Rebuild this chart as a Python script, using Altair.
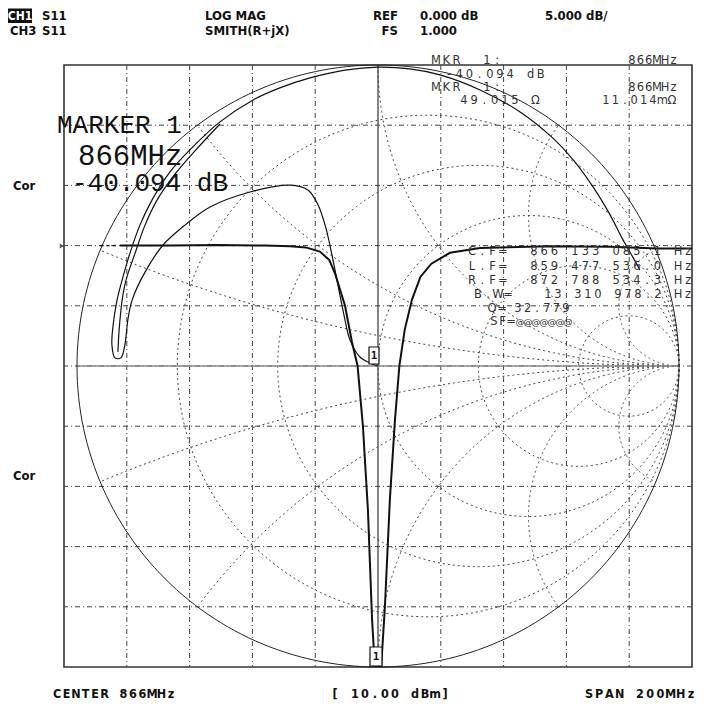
import altair as alt
import numpy as np
import pandas as pd

# ---------------- screen scaling (network-analyser display) ----------------
F_START, F_STOP = 766.0, 966.0      # MHz  (center 866, span 200)
DB_TOP, DB_BOT = 15.0, -35.0        # REF 0 dB at 3rd division, 5 dB/div
W, H = 628, 602
PX_F = W / (F_STOP - F_START)       # px per MHz
PX_D = H / (DB_TOP - DB_BOT)        # px per dB
GX = (H / 2) / PX_F                 # MHz per unit reflection coefficient
GY = (H / 2) / PX_D                 # dB per unit reflection coefficient
F_C, DB_C = 866.0, -10.0            # smith chart centre on the screen

# ---------------- CH1 : S11 LOG MAG trace ----------------
lm_freq = [783.8, 800, 815, 830, 838, 843, 847.5, 850.5, 852.3, 855.5, 857.7, 859.5,
           861.2, 862.8, 864.1, 865.0, 866.0, 867.0, 868.2, 869.8, 871.4, 872.8,
           874.5, 876.8, 879.5, 883.0, 888.9, 898.5, 920, 940, 955, 966]
lm_db = [0.0, 0.0, 0.05, 0.0, -0.05, -0.15, -0.5, -1.2, -2.3, -5.0, -8.0, -10.0,
         -15.0, -22.0, -31.0, -38.0, -40.094, -38.0, -30.0, -21.0, -14.5, -10.0,
         -7.0, -4.5, -2.6, -1.5, -0.6, -0.2, -0.05, -0.1, -0.25, -0.25]
lm_lead_freq = [777.5, 779.5, 781.5]          # faint start of the trace near the REF pointer

# ---------------- CH3 : S11 SMITH trace (reflection coefficient) ----------------
# outer sweep arc (right -> over the top -> left), turning back in as the resonance loop
sm_re = [0.870, 0.837, 0.814, 0.771, 0.721, 0.654, 0.581, 0.472, 0.339, 0.206, 0.106, 0.0,
         -0.110, -0.226, -0.326, -0.415, -0.525, -0.625, -0.691, -0.751, -0.791, -0.824,
         -0.850, -0.867, -0.880, -0.884, -0.874, -0.854, -0.841, -0.831,
         -0.817, -0.774, -0.714, -0.641, -0.558, -0.425, -0.292, -0.233, -0.199, -0.173,
         -0.153, -0.133, -0.113, -0.093, -0.060, -0.027, 0.0]
sm_im = [0.319, 0.379, 0.419, 0.502, 0.585, 0.678, 0.757, 0.844, 0.917, 0.967, 0.987, 0.993,
         0.983, 0.957, 0.924, 0.884, 0.811, 0.718, 0.645, 0.551, 0.468, 0.375,
         0.286, 0.219, 0.136, 0.070, 0.027, 0.027, 0.070, 0.153,
         0.219, 0.312, 0.402, 0.468, 0.528, 0.578, 0.601, 0.585, 0.535, 0.458,
         0.369, 0.269, 0.169, 0.086, 0.030, 0.010, 0.0]
# second pass of the sweep on the upper left, just inside the outer arc
sm2_re = [-0.525, -0.605, -0.674, -0.734, -0.774, -0.807, -0.837, -0.850, -0.860, -0.864]
sm2_im = [0.804, 0.718, 0.638, 0.551, 0.468, 0.375, 0.286, 0.219, 0.120, 0.047]

# ---------------- smith chart graticule ----------------
r_values = [0.2, 0.5, 1.0, 2.0, 5.0]
x_values = [0.2, 0.5, 1.0, 2.0, 5.0]

# ---------------- screen grid ----------------
v_grid = [786, 806, 826, 846, 886, 906, 926, 946]
h_grid = [10, 5, 0, -5, -10, -15, -20, -25, -30]


def to_screen(re, im):
    return F_C + GX * np.asarray(re, dtype=float), DB_C + GY * np.asarray(im, dtype=float)


def px(xp, yp):
    """page pixel -> screen data units (used only to place annotations)"""
    return F_START + (xp - 64) / PX_F, DB_TOP - (yp - 65) / PX_D


# graticule geometry
rows = []
t = np.linspace(0, 2 * np.pi, 241)
for i, r in enumerate(r_values):
    cx, rad = r / (1 + r), 1 / (1 + r)
    gx, gy = to_screen(cx + rad * np.cos(t), rad * np.sin(t))
    rows += [dict(x=a, y=b, g=f"r{i}", o=k) for k, (a, b) in enumerate(zip(gx, gy))]
for i, xv in enumerate(x_values):
    for sgn in (1, -1):
        tt = np.linspace(-np.pi / 2, -1.5 * np.pi, 600) if sgn > 0 else np.linspace(np.pi / 2, 1.5 * np.pi, 600)
        re = 1 + np.cos(tt) / xv
        im = sgn / xv + np.sin(tt) / xv
        keep = []
        for a, b in zip(re, im):
            if a * a + b * b > 1.0005:
                break
            keep.append((a, b))
        ka = np.array(keep)
        gx, gy = to_screen(ka[:, 0], ka[:, 1])
        rows += [dict(x=a, y=b, g=f"x{i}{sgn}", o=k) for k, (a, b) in enumerate(zip(gx, gy))]
grat = pd.DataFrame(rows)

ox, oy = to_screen(np.cos(t), np.sin(t))
outer = pd.DataFrame(dict(x=ox, y=oy, o=np.arange(len(t))))

s1x, s1y = to_screen(sm_re, sm_im)
s2x, s2y = to_screen(sm2_re, sm2_im)
smith = pd.DataFrame(dict(x=np.r_[s1x, s2x], y=np.r_[s1y, s2y],
                          g=[0] * len(s1x) + [1] * len(s2x),
                          o=np.r_[np.arange(len(s1x)), np.arange(len(s2x))]))

logmag = pd.DataFrame(dict(x=lm_freq, y=np.maximum(lm_db, DB_BOT), o=np.arange(len(lm_freq))))

xs = alt.Scale(domain=[F_START, F_STOP], nice=False, zero=False)
ys = alt.Scale(domain=[DB_BOT, DB_TOP], nice=False, zero=False)
X = lambda f="x": alt.X(f"{f}:Q", scale=xs, axis=None)
Y = lambda f="y": alt.Y(f"{f}:Q", scale=ys, axis=None)

GRID = "#444444"
layers = []
layers.append(alt.Chart(pd.DataFrame(dict(f=v_grid))).mark_rule(
    color=GRID, strokeWidth=1, strokeDash=[5, 3, 1, 3]).encode(x=X("f")))
layers.append(alt.Chart(pd.DataFrame(dict(f=[F_C]))).mark_rule(
    color="#333333", strokeWidth=1.2).encode(x=X("f")))
layers.append(alt.Chart(pd.DataFrame(dict(d=h_grid))).mark_rule(
    color=GRID, strokeWidth=1, strokeDash=[5, 3, 1, 3]).encode(y=Y("d")))
layers.append(alt.Chart(grat).mark_line(color=GRID, strokeWidth=1, strokeDash=[2, 3]).encode(
    x=X(), y=Y(), detail="g:N", order="o:Q"))
ax0, _ = to_screen([-1, 1], [0, 0])
layers.append(alt.Chart(pd.DataFrame(dict(x=[ax0[0]], x2=[ax0[1]], y=[DB_C]))).mark_rule(
    color="#888888", strokeWidth=1.5).encode(x=X(), x2="x2:Q", y=Y()))
layers.append(alt.Chart(outer).mark_line(color="#222222", strokeWidth=1).encode(
    x=X(), y=Y(), order="o:Q"))
layers.append(alt.Chart(smith).mark_line(color="#111111", strokeWidth=1.2, interpolate="catmull-rom").encode(
    x=X(), y=Y(), detail="g:N", order="o:Q"))
layers.append(alt.Chart(logmag).mark_line(color="#111111", strokeWidth=2, clip=True).encode(
    x=X(), y=Y(), order="o:Q"))
layers.append(alt.Chart(pd.DataFrame(dict(x=lm_lead_freq, x2=[f + 1.0 for f in lm_lead_freq],
                                          y=[0.0] * 3))).mark_rule(
    color="#111111", strokeWidth=1.5).encode(x=X(), x2="x2:Q", y=Y()))

# marker flags "1"
b1 = px(369, 347) + px(379, 364)
b2 = px(370, 647) + px(382, 666)
mk = pd.DataFrame(dict(x=[b1[0], b2[0]], y=[b1[1], b2[1]], x2=[b1[2], b2[2]], y2=[b1[3], b2[3]]))
layers.append(alt.Chart(mk).mark_rect(fill="white", stroke="#111111", strokeWidth=1.2).encode(
    x=X(), x2="x2:Q", y=Y(), y2="y2:Q"))
t1 = px(374, 356)
t2 = px(376, 657)
layers.append(alt.Chart(pd.DataFrame(dict(x=[t1[0], t2[0]], y=[t1[1], t2[1]], t=["1", "1"]))).mark_text(
    font="DejaVu Sans Mono", fontSize=11, fontWeight="bold", color="#111111", baseline="middle").encode(
    x=X(), y=Y(), text="t:N"))

# reference position pointer
rp = px(62, 246)
layers.append(alt.Chart(pd.DataFrame(dict(x=[rp[0]], y=[rp[1]]))).mark_point(
    shape="triangle-right", filled=True, color="#111111", size=25, clip=False).encode(x=X(), y=Y()))

# --------- texts ---------
HDR = "DejaVu Sans Condensed, DejaVu Sans"
R1, R2 = 16, 31
hdr_items = [("S11", 42, R1), ("LOG MAG", 205, R1), ("0.000 dB", 420, R1), ("5.000 dB/", 545, R1),
             ("CH3", 10, R2), ("S11", 42, R2), ("SMITH(R+jX)", 205, R2), ("1.000", 420, R2),
             ("Cor", 13, 186), ("Cor", 13, 476)]
hdr_left = pd.DataFrame([dict(t=s, x=px(a, b)[0], y=px(a, b)[1]) for s, a, b in hdr_items])
layers.append(alt.Chart(hdr_left).mark_text(font=HDR, fontSize=13, fontWeight="bold", align="left",
                                            baseline="middle", color="#111111").encode(x=X(), y=Y(), text="t:N"))
hdr_r_items = [("REF", 398, R1), ("FS", 398, R2)]
hdr_right = pd.DataFrame([dict(t=s, x=px(a, b)[0], y=px(a, b)[1]) for s, a, b in hdr_r_items])
layers.append(alt.Chart(hdr_right).mark_text(font=HDR, fontSize=13, fontWeight="bold", align="right",
                                             baseline="middle", color="#111111").encode(x=X(), y=Y(), text="t:N"))
cb = px(8, 8.5) + px(32, 23)
ch1_box = pd.DataFrame(dict(x=[cb[0]], y=[cb[1]], x2=[cb[2]], y2=[cb[3]]))
layers.append(alt.Chart(ch1_box).mark_rect(color="#111111").encode(x=X(), x2="x2:Q", y=Y(), y2="y2:Q"))
cp = px(20, R1)
layers.append(alt.Chart(pd.DataFrame(dict(t=["CH1"], x=[cp[0]], y=[cp[1]]))).mark_text(
    font=HDR, fontSize=12, fontWeight="bold", color="white", baseline="middle").encode(x=X(), y=Y(), text="t:N"))

# footer, fixed-pitch display characters
footer = [("CENTER 866MHz", 53, 694, 9.5), ("[ 10.00 dBm]", 331, 694, 10.0), ("SPAN 200MHz", 585, 694, 10.2)]
fchars = []
for s, a, b, pitch in footer:
    for k, ch in enumerate(s):
        if ch != " ":
            p = px(a + 4 + k * pitch, b)
            fchars.append(dict(t=ch, x=p[0], y=p[1]))
layers.append(alt.Chart(pd.DataFrame(fchars)).mark_text(
    font=HDR, fontSize=12.5, fontWeight="bold", align="center", baseline="middle", color="#111111").encode(
    x=X(), y=Y(), text="t:N"))

big_items = [("MARKER  1", 57, 125, 26), ("866MHz", 78, 156, 29), ("-40.094 dB", 72, 183, 26)]
for s, a, b, fs in big_items:
    p = px(a, b)
    layers.append(alt.Chart(pd.DataFrame(dict(t=[s], x=[p[0]], y=[p[1]]))).mark_text(
        font="Liberation Mono", fontSize=fs, align="left", baseline="middle", color="#111111").encode(
        x=X(), y=Y(), text="t:N"))

# marker read-outs, laid out as a fixed-pitch character display
readouts = [("MKR  1:", 432, 61, 10.2), ("866MHz", 628, 61, 8.3),
            ("-40.094 dB", 445, 75, 10.2),
            ("MKR  1:", 432, 88, 10.2), ("866MHz", 628, 88, 8.3),
            ("49.015 Ω", 460, 101, 10.2), ("11.014mΩ", 602, 101, 9.4),
            ("C.F=  866 133 085.1 Hz", 468, 252, 10.3),
            ("L.F=  859 477 536.0 Hz", 468, 267, 10.3),
            ("R.F=  872 788 534.3 Hz", 468, 281, 10.3),
            ("B.W=   13 310 978.2 Hz", 474, 295, 10.0),
            ("Q=", 488, 309, 10.0), ("32.779", 514, 309, 9.6),
            ("SF=", 490, 322, 8.5)]
chars = []
for s, a, b, pitch in readouts:
    for k, ch in enumerate(s):
        if ch != " ":
            p = px(a + 4 + k * pitch, b)
            chars.append(dict(t=ch, x=p[0], y=p[1]))
layers.append(alt.Chart(pd.DataFrame(chars)).mark_text(
    font="DejaVu Sans", fontSize=11.5, align="center", baseline="middle", color="#333333").encode(
    x=X(), y=Y(), text="t:N"))
sf_marks = []
for k in range(7):
    p = px(520 + k * 8.0, 322)
    sf_marks.append(dict(t="@", x=p[0], y=p[1]))
layers.append(alt.Chart(pd.DataFrame(sf_marks)).mark_text(
    font="DejaVu Sans", fontSize=9, align="center", baseline="middle", color="#333333").encode(
    x=X(), y=Y(), text="t:N"))

chart = alt.layer(*layers).properties(
    width=W, height=H, background="white",
    autosize=alt.AutoSizeParams(type="none"),
    padding={"left": 56, "top": 57, "right": 11, "bottom": 34},
).configure_view(stroke="#333333", strokeWidth=1.6)

chart.save("out.html", embed_options={"renderer": "svg", "actions": False})
